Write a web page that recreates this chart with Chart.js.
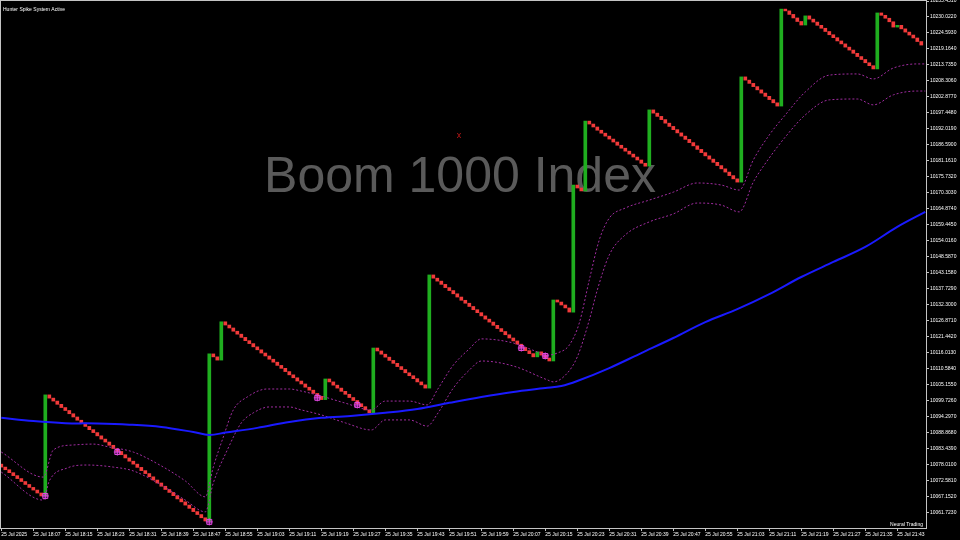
<!DOCTYPE html>
<html>
<head>
<meta charset="utf-8">
<script src="https://cdn.jsdelivr.net/npm/chart.js@4.4.1/dist/chart.umd.min.js"></script>
<style>
  html, body { margin: 0; padding: 0; background: #000; }
  canvas { display: block; }
</style>
</head>
<body>
<canvas id="chart" width="960" height="540"></canvas>
<script>
/* Boom 1000 Index, M1 – Hunter Spike System */

const FIRST_OPEN = 10078.3;

// close of every M1 bar, bar 0 = 25 Jul 17:59
const closes = [
  10077.3, 10076.4, 10075.4, 10074.4, 10073.4, 10072.4, 10071.4, 10070.4, 10069.5, 10068.5, 10067.5,
  10101.8,
  10100.7, 10099.7, 10098.6, 10097.5, 10096.5, 10095.4, 10094.3, 10093.2, 10092.2, 10091.1,
  10090.0, 10089.0, 10087.9, 10086.8, 10085.8, 10084.7, 10083.6, 10082.6, 10081.5, 10080.4,
  10079.3, 10078.3, 10077.2, 10076.1, 10075.1, 10074.0, 10072.9, 10071.9, 10070.8, 10069.7,
  10068.7, 10067.6, 10066.5, 10065.5, 10064.4, 10063.3, 10062.2, 10061.2, 10060.1, 10059.0,
  10115.7, 10114.7, 10113.6, 10126.6,
  10125.5, 10124.5, 10123.4, 10122.4, 10121.3, 10120.2, 10119.2, 10118.1, 10117.1, 10116.0,
  10115.0, 10113.9, 10112.9, 10111.8, 10110.8, 10109.7, 10108.6, 10107.6, 10106.5, 10105.5,
  10104.4, 10103.4, 10102.3, 10101.3, 10100.2,
  10107.2,
  10106.2, 10105.1, 10104.1, 10103.0, 10102.0, 10100.9, 10099.9, 10098.8, 10097.8, 10096.7, 10095.7,
  10117.7,
  10116.7, 10115.6, 10114.6, 10113.5, 10112.5, 10111.4, 10110.4, 10109.3, 10108.3, 10107.3,
  10106.2, 10105.2, 10104.1,
  10142.5,
  10141.4, 10140.4, 10139.3, 10138.2, 10137.2, 10136.1, 10135.0, 10133.9, 10132.9, 10131.8,
  10130.7, 10129.7, 10128.6, 10127.5, 10126.5, 10125.4, 10124.3, 10123.3, 10122.2, 10121.1,
  10120.1, 10119.0, 10117.9, 10116.8, 10115.8, 10114.7,
  10116.4, 10115.3, 10114.3, 10113.3,
  10134.0, 10133.3, 10132.3, 10131.3, 10129.9,
  10173.0, 10172.0, 10171.0,
  10194.7,
  10193.7, 10192.7, 10191.6, 10190.6, 10189.6, 10188.6, 10187.6, 10186.5, 10185.5, 10184.5,
  10183.5, 10182.5, 10181.5, 10180.4, 10179.4,
  10198.5,
  10197.4, 10196.3, 10195.2, 10194.0, 10192.9, 10191.8, 10190.7, 10189.6, 10188.5, 10187.4,
  10186.3, 10185.1, 10184.0, 10182.9, 10181.8, 10180.7, 10179.6, 10178.5, 10177.4, 10176.2,
  10175.1, 10174.0,
  10209.7,
  10208.6, 10207.5, 10206.4, 10205.3, 10204.2, 10203.1, 10202.0, 10200.9, 10199.8,
  10232.7,
  10232.1, 10230.9, 10229.7, 10228.5, 10227.3,
  10230.4,
  10229.3, 10228.3, 10227.2, 10226.2, 10225.1, 10224.0, 10223.0, 10221.9, 10220.9, 10219.8,
  10218.8, 10217.7, 10216.6, 10215.6, 10214.5, 10213.5, 10212.4,
  10231.4,
  10230.6, 10229.6, 10228.4, 10226.6,
  10227.2,
  10226.0, 10224.9, 10223.9, 10222.9, 10221.7, 10220.5,
];

// slow moving average (blue), [bar, value]
const maBars   = [0, 8, 16, 24, 32, 40, 48, 52, 56, 64, 72, 80, 88, 96, 104, 112, 120, 128, 136, 140,
                  144, 152, 160, 168, 176, 184, 192, 200, 208, 216, 224, 231];
const maValues = [10094.0, 10092.9, 10092.2, 10092.1, 10091.7, 10090.9, 10089.2, 10088.2, 10089.0, 10090.6,
                  10092.6, 10094.0, 10094.7, 10095.7, 10097.0, 10099.1, 10101.1, 10102.8, 10104.1, 10104.8,
                  10106.5, 10110.9, 10116.0, 10121.1, 10126.5, 10130.9, 10136.0, 10141.8, 10146.9, 10152.0,
                  10158.8, 10163.9];

// spike band (dotted purple)
const upBandBars = [0, 10.5, 13, 18, 23, 27, 33, 40, 46, 51, 53, 55.5, 58, 61.5, 66.5, 72, 75, 80, 86, 92.5,
                    96, 102, 106.5, 109, 113, 117, 120, 128, 134, 136.5, 139, 142, 144.5, 147, 149.5, 152,
                    156, 162, 168, 174, 180, 184.5, 188, 192, 196, 201, 207, 214, 218, 223, 229, 231];
const upBandValues = [10082.4, 10073.9, 10083.1, 10084.8, 10085.1, 10084.1, 10082.4, 10077.7, 10072.6, 10067.2,
                      10077.3, 10087.5, 10096.7, 10101.1, 10103.8, 10103.8, 10103.1, 10101.4, 10099.0, 10096.7,
                      10099.7, 10099.7, 10098.4, 10103.5, 10111.9, 10117.4, 10120.8, 10119.4, 10116.4, 10115.3,
                      10116.0, 10118.7, 10126.2, 10140.8, 10154.4, 10161.8, 10165.2, 10167.9, 10170.6, 10173.7,
                      10173.0, 10171.3, 10181.5, 10190.0, 10196.8, 10204.6, 10210.3, 10210.7, 10209.0, 10212.7,
                      10214.1, 10214.1];
const loBandBars = [0, 10.5, 12, 16.5, 21.5, 28, 33, 40, 46, 51, 53, 56.5, 60, 63, 67, 72, 75, 80, 86, 92.5,
                    96, 102, 106.5, 109, 113, 117, 120, 128, 136.5, 138, 141.5, 144, 147, 149, 152, 156,
                    162, 168, 174, 180, 184.5, 188, 192, 196, 201, 207, 214, 218, 223, 229, 231];
const loBandValues = [10075.6, 10066.1, 10072.6, 10077.0, 10078.0, 10077.3, 10076.0, 10071.2, 10066.1, 10062.1,
                      10071.9, 10083.1, 10092.3, 10095.7, 10097.7, 10097.7, 10096.7, 10095.0, 10092.3, 10089.9,
                      10093.3, 10093.3, 10091.2, 10095.3, 10104.1, 10110.2, 10113.3, 10111.6, 10106.9, 10106.2,
                      10109.2, 10114.7, 10127.2, 10137.4, 10149.3, 10156.1, 10160.5, 10163.2, 10166.9, 10166.2,
                      10163.9, 10174.0, 10182.2, 10189.3, 10196.8, 10201.9, 10202.2, 10200.2, 10203.6, 10204.9,
                      10204.9];

// spike signals (magenta boxes)
const signalBars   = [11, 29, 52, 79, 89, 130, 136];
const signalValues = [10067.5, 10082.4, 10058.7, 10100.8, 10098.4, 10117.7, 10115.0];

// axes
const xLabels = ['25 Jul 2025', '25 Jul 18:07', '25 Jul 18:15', '25 Jul 18:23', '25 Jul 18:31', '25 Jul 18:39',
                 '25 Jul 18:47', '25 Jul 18:55', '25 Jul 19:03', '25 Jul 19:11', '25 Jul 19:19', '25 Jul 19:27',
                 '25 Jul 19:35', '25 Jul 19:43', '25 Jul 19:51', '25 Jul 19:59', '25 Jul 20:07', '25 Jul 20:15',
                 '25 Jul 20:23', '25 Jul 20:31', '25 Jul 20:39', '25 Jul 20:47', '25 Jul 20:55', '25 Jul 21:03',
                 '25 Jul 21:11', '25 Jul 21:19', '25 Jul 21:27', '25 Jul 21:35', '25 Jul 21:43'];
const X_LABEL_EVERY = 8;
const yTicks = [10235.4510, 10230.0220, 10224.5930, 10219.1640, 10213.7350, 10208.3060, 10202.8770,
                10197.4480, 10192.0190, 10186.5900, 10181.1610, 10175.7320, 10170.3030, 10164.8740,
                10159.4450, 10154.0160, 10148.5870, 10143.1580, 10137.7290, 10132.3000, 10126.8710,
                10121.4420, 10116.0130, 10110.5840, 10105.1550, 10099.7260, 10094.2970, 10088.8680,
                10083.4390, 10078.0100, 10072.5810, 10067.1520, 10061.7230];
const Y_MIN = 10056.63;
const Y_MAX = 10235.451;

const AXIS_COLOR = '#c4c4c4';
const TICK_FONT  = { family: 'Liberation Sans', size: 5 };

const zip = (xs, ys) => xs.map((x, i) => ({ x, y: ys[i] }));

const bodies = closes.map((c, i) => ({ x: i, y: [i ? closes[i - 1] : FIRST_OPEN, c] }));
const upBodies   = bodies.filter(b => b.y[1] > b.y[0]);
const downBodies = bodies.filter(b => b.y[1] <= b.y[0]);

const decor = {
  id: 'decor',
  beforeDraw(chart) {
    const { ctx, width, height } = chart;
    ctx.save();
    ctx.fillStyle = '#000';
    ctx.fillRect(0, 0, width, height);
    ctx.restore();
  },
  beforeDatasetsDraw(chart) {
    const { ctx } = chart;
    ctx.save();
    ctx.fillStyle = '#5a5a5a';
    ctx.font = '50px "Liberation Sans"';
    ctx.textAlign = 'center';
    ctx.textBaseline = 'alphabetic';
    ctx.fillText('Boom 1000 Index', 460, 192);
    ctx.fillStyle = '#c01818';
    ctx.font = '9px "Liberation Sans"';
    ctx.fillText('x', 459, 138);
    ctx.restore();
  },
  afterDraw(chart) {
    const { ctx, chartArea: a } = chart;
    ctx.save();
    ctx.strokeStyle = AXIS_COLOR;
    ctx.lineWidth = 1;
    ctx.strokeRect(a.left - 0.5, a.top - 0.5, a.right - a.left + 1, a.bottom - a.top + 1);
    ctx.fillStyle = '#fff';
    ctx.font = '5px "Liberation Sans"';
    ctx.textBaseline = 'middle';
    ctx.textAlign = 'left';
    ctx.fillText('Hunter Spike System Active', 3, 10);
    ctx.textAlign = 'right';
    ctx.fillText('Neural Trading', 923, 524.5);
    ctx.restore();
  },
};

new Chart(document.getElementById('chart'), {
  type: 'bar',
  data: {
    datasets: [
      {
        type: 'line', data: zip(signalBars, signalValues), showLine: false, order: 0,
        pointStyle: 'cross', pointRadius: 3.5, borderColor: '#e048e0', borderWidth: 1,
      },
      {
        type: 'line', data: zip(signalBars, signalValues), showLine: false, order: 0,
        pointStyle: 'rect', pointRadius: 3.5, borderColor: '#e048e0', borderWidth: 1,
        backgroundColor: 'rgba(224,72,224,0.3)',
      },
      {
        type: 'line', data: zip(maBars, maValues), order: 1,
        borderColor: '#1a1aff', borderWidth: 2, pointRadius: 0, tension: 0.35,
      },
      {
        type: 'line', data: zip(upBandBars, upBandValues), order: 1,
        borderColor: '#a02ca0', borderWidth: 1, borderDash: [2, 2], pointRadius: 0,
        cubicInterpolationMode: 'monotone',
      },
      {
        type: 'line', data: zip(loBandBars, loBandValues), order: 1,
        borderColor: '#a02ca0', borderWidth: 1, borderDash: [2, 2], pointRadius: 0,
        cubicInterpolationMode: 'monotone',
      },
      { data: upBodies,   backgroundColor: '#1fae1f', order: 2 },
      { data: downBodies, backgroundColor: '#f23a3a', order: 2 },
    ],
  },
  options: {
    responsive: false,
    animation: false,
    devicePixelRatio: 1,
    layout: { autoPadding: false, padding: { left: 1, top: 1, right: 0, bottom: 0 } },
    datasets: { bar: { barThickness: 3, grouped: false, borderWidth: 0, borderSkipped: false } },
    plugins: { legend: { display: false }, tooltip: { enabled: false } },
    scales: {
      x: {
        type: 'linear',
        offset: false,
        min: -0.075,
        max: 231.175,
        afterFit: s => { s.height = 12; s.paddingLeft = 0; s.paddingRight = 0; },
        afterBuildTicks: s => { s.ticks = xLabels.map((_, k) => ({ value: k * X_LABEL_EVERY })); },
        grid: { offset: false, drawOnChartArea: false, tickLength: 3, color: AXIS_COLOR },
        border: { color: AXIS_COLOR },
        ticks: {
          autoSkip: false, maxRotation: 0, align: 'start', padding: 1,
          color: '#fff', font: TICK_FONT,
          callback: v => xLabels[Math.round(v / X_LABEL_EVERY)],
        },
      },
      y: {
        position: 'right',
        min: Y_MIN,
        max: Y_MAX,
        afterFit: s => { s.width = 34; s.paddingTop = 0; s.paddingBottom = 0; },
        afterBuildTicks: s => { s.ticks = yTicks.map(v => ({ value: v })); },
        grid: { drawOnChartArea: false, tickLength: 3, color: AXIS_COLOR },
        border: { color: AXIS_COLOR },
        ticks: { padding: 1, color: '#fff', font: TICK_FONT, callback: v => v.toFixed(4) },
      },
    },
  },
  plugins: [decor],
});
</script>
</body>
</html>
